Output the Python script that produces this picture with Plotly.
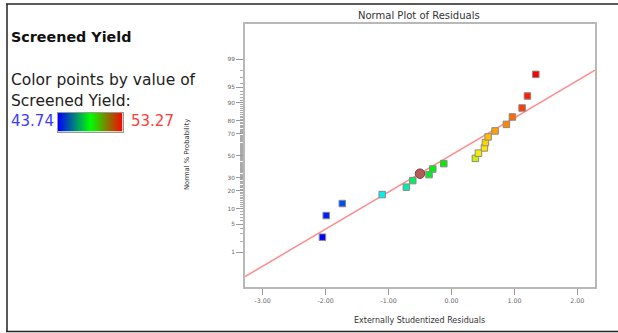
import plotly.graph_objects as go
from statistics import NormalDist

# ---------------- data ----------------
residuals = [-2.05, -1.99, -1.735, -1.10, -0.717, -0.615, -0.356, -0.297, -0.122,
             0.380, 0.428, 0.523, 0.539, 0.582, 0.693, 0.873, 0.968, 1.122, 1.207, 1.340]
normal_pct = [2.5, 7.5, 12.5, 17.5, 22.5, 27.5, 32.5, 37.5, 42.5, 47.5,
              52.5, 57.5, 62.5, 67.5, 72.5, 77.5, 82.5, 87.5, 92.5, 97.5]
screened_yield = [43.74, 44.03, 44.50, 46.12, 46.88, 47.55, 48.12, 48.31, 48.50, 50.41,
                  50.79, 50.98, 51.17, 51.36, 51.65, 51.94, 52.22, 52.70, 52.98, 53.27]

highlight_x = [-0.50]
highlight_pct = [33.3]

line_x = [-3.28, 2.28]
line_pct = [0.181, 98.03]

yield_min = 43.74
yield_max = 53.27

y_major_pct = [1, 5, 10, 20, 30, 50, 70, 80, 90, 95, 99]
y_major_labels = ["1", "5", "10", "20", "30", "50", "70", "80", "90", "95", "99"]
y_minor_pct = [p for p in range(1, 100) if p not in y_major_pct]
x_tick_vals = [-3, -2, -1, 0, 1, 2]
x_tick_labels = ["-3.00", "-2.00", "-1.00", "0.00", "1.00", "2.00"]

# ---------------- helpers ----------------
W, H = 618, 333
nd = NormalDist()
def z(p):
    return nd.inv_cdf(p / 100.0)
def px(x):
    return x / W
def py(y):
    return 1 - y / H

FONT = "DejaVu Sans"
rainbow = [[0, "#0000ff"], [0.25, "#00f0f0"], [0.5, "#00ee00"], [0.75, "#ffee00"], [1, "#ff0000"]]
legend_scale = [[0, "#0000ff"], [0.5, "#00ff00"], [1, "#ff0000"]]

fig = go.Figure()

fig.add_trace(go.Scatter(
    x=line_x, y=[z(p) for p in line_pct], mode="lines",
    line=dict(color="#ff8c8c", width=1.5), hoverinfo="skip", showlegend=False))

fig.add_trace(go.Scatter(
    x=residuals, y=[z(p) for p in normal_pct], mode="markers",
    marker=dict(symbol="square", size=6.5, color=screened_yield, colorscale=rainbow,
                cmin=yield_min, cmax=yield_max, showscale=False,
                line=dict(color="#8a8a8a", width=1)),
    showlegend=False))

fig.add_trace(go.Scatter(
    x=highlight_x, y=[z(p) for p in highlight_pct], mode="markers",
    marker=dict(symbol="circle", size=9.5, color="#b35a5a",
                line=dict(color="#7a3a3a", width=1)),
    showlegend=False))

# legend colour bar as a smoothed two-cell heatmap in its own small axes
fig.add_trace(go.Heatmap(
    z=[[yield_min, yield_max]], x=[0, 1], y=[0],
    colorscale=legend_scale, zmin=yield_min, zmax=yield_max, zsmooth="best",
    showscale=False, hoverinfo="skip", xaxis="x2", yaxis="y2"))

fig.update_layout(
    width=W, height=H,
    margin=dict(l=0, r=0, t=0, b=0, autoexpand=False),
    paper_bgcolor="white", plot_bgcolor="white",
    xaxis=dict(domain=[px(245), px(595)], range=[-3.28, 2.28],
               tickmode="array", tickvals=x_tick_vals, ticktext=x_tick_labels,
               ticks="outside", ticklen=6, tickcolor="#999999", tickwidth=1,
               tickfont=dict(family=FONT, size=6.3, color="#666666"),
               showgrid=False, zeroline=False,
               showline=True, mirror=True, linecolor="#b8b8b8", linewidth=2),
    yaxis=dict(domain=[py(287), py(23.5)], range=[-3.16, 3.185],
               tickmode="array", tickvals=[z(p) for p in y_major_pct], ticktext=y_major_labels,
               ticks="outside", ticklen=7, tickcolor="#999999", tickwidth=1,
               tickfont=dict(family=FONT, size=5.8, color="#666666"),
               showgrid=False, zeroline=False,
               showline=True, mirror=True, linecolor="#b8b8b8", linewidth=2,
               minor=dict(tickmode="array", tickvals=[z(p) for p in y_minor_pct],
                          ticks="outside", ticklen=3, tickcolor="#aaaaaa", tickwidth=1,
                          showgrid=False)),
    xaxis2=dict(domain=[px(57.5), px(122.5)], range=[0, 1], anchor="y2",
                showticklabels=False, ticks="", showgrid=False, zeroline=False,
                showline=True, mirror=True, linecolor="#999999", linewidth=1),
    yaxis2=dict(domain=[py(131.5), py(112.5)], range=[-0.5, 0.5], anchor="x2",
                showticklabels=False, ticks="", showgrid=False, zeroline=False,
                showline=True, mirror=True, linecolor="#999999", linewidth=1),
)

ann = [
    dict(text="Normal Plot of Residuals", x=px(419), y=py(15.5), size=10, color="#333333"),
    dict(text="Externally Studentized Residuals", x=px(419), y=py(320), size=8, color="#333333"),
]
for a in ann:
    fig.add_annotation(text=a["text"], xref="paper", yref="paper", x=a["x"], y=a["y"],
                       xanchor="center", yanchor="middle", showarrow=False,
                       font=dict(family=FONT, size=a["size"], color=a["color"]))

fig.add_annotation(text="Normal % Probability", xref="paper", yref="paper",
                   x=px(187), y=py(155), textangle=-90, xanchor="center", yanchor="middle",
                   showarrow=False, font=dict(family=FONT, size=6.8, color="#333333"))

left_texts = [
    ("<b>Screened Yield</b>", 9, 36.5, 14.3, "#111111"),
    ("Color points by value of", 9, 79.5, 15.5, "#222222"),
    ("Screened Yield:", 9, 101, 15.5, "#222222"),
    (f"{yield_min:.2f}", 9, 121, 15, "#3b3bff"),
    (f"{yield_max:.2f}", 129, 121, 15, "#ff3c3c"),
]
for t, x0, y0, s, c in left_texts:
    fig.add_annotation(text=t, xref="paper", yref="paper", x=px(x0), y=py(y0),
                       xanchor="left", yanchor="middle", showarrow=False,
                       font=dict(family=FONT, size=s, color=c))

# outer frame lines (top, left, bottom)
border = dict(color="#222222", width=1.5)
fig.add_shape(type="line", xref="paper", yref="paper", x0=px(6), x1=1, y0=py(4), y1=py(4), line=border)
fig.add_shape(type="line", xref="paper", yref="paper", x0=px(7), x1=px(7), y0=py(4), y1=py(331.5), line=border)
fig.add_shape(type="line", xref="paper", yref="paper", x0=px(6), x1=1, y0=py(331.5), y1=py(331.5), line=border)

fig.write_html("out.html", config={"displayModeBar": False},
               post_script="document.body.style.margin='0';document.body.style.overflow='hidden';")
